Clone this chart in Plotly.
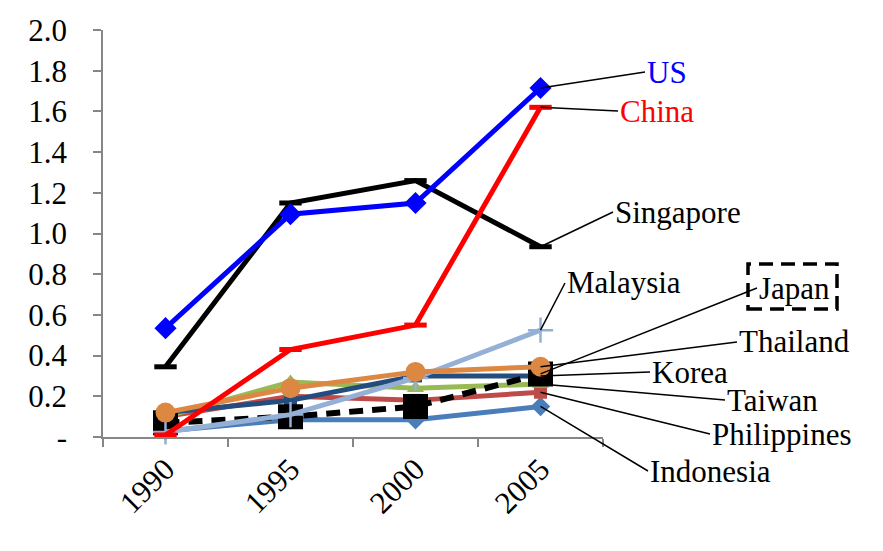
import plotly.graph_objects as go

years = ["1990", "1995", "2000", "2005"]

us = [0.535, 1.095, 1.15, 1.715]
china = [0.01, 0.43, 0.55, 1.62]
singapore = [0.345, 1.15, 1.26, 0.935]
malaysia = [0.025, 0.11, 0.29, 0.525]
japan = [0.07, 0.10, 0.15, 0.31]
thailand = [0.12, 0.24, 0.32, 0.345]
korea = [0.12, 0.18, 0.30, 0.30]
taiwan = [0.10, 0.27, 0.24, 0.26]
philippines = [0.10, 0.20, 0.18, 0.22]
indonesia = [0.03, 0.085, 0.085, 0.15]

ytick_vals = [0, 0.2, 0.4, 0.6, 0.8, 1.0, 1.2, 1.4, 1.6, 1.8, 2.0]
ytick_text = ["-", "0.2", "0.4", "0.6", "0.8", "1.0", "1.2", "1.4", "1.6", "1.8", "2.0"]

FONT = "Liberation Serif"
FS = 31
W, H = 883, 551
OFF = 8  # page body margin offset
ML, MT = 103 - OFF, 30 - OFF
PW, PH = 500, 407
MR = W - ML - PW
MB = H - MT - PH
YMAX = 2.0

def px_x(i):
    return 103 + (i + 0.5) * PW / 4

def px_y(v):
    return 30 + PH * (1 - v / YMAX)

def paper_x(px):
    return (px - 103) / PW

def paper_y(py):
    return (30 + PH - py) / PH

fig = go.Figure()

def add(name, vals, color, width, symbol, msize, mline=0, dash="solid"):
    fig.add_trace(go.Scatter(
        x=years, y=vals, name=name, mode="lines+markers",
        line=dict(color=color, width=width, dash=dash),
        marker=dict(symbol=symbol, size=msize, color=color,
                    line=dict(color=color, width=mline)),
        cliponaxis=False,
    ))

add("Indonesia", indonesia, "#4A7EBB", 5, "diamond", 15)
add("Philippines", philippines, "#BE4B48", 5, "square", 13)
add("Taiwan", taiwan, "#98B954", 5, "triangle-up", 15)
add("Korea", korea, "#254C7E", 5, "square", 13)
add("Japan", japan, "#000000", 6, "square", 23, mline=2, dash="14px,9px")
add("Malaysia", malaysia, "#95B0D6", 5, "cross-thin", 18, mline=2.5)
add("Thailand", thailand, "#DD8842", 5, "circle", 20)
add("Singapore", singapore, "#000000", 5, "line-ew", 16, mline=5)
add("China", china, "#FF0000", 5, "line-ew", 16, mline=5)
add("US", us, "#0000FF", 5, "diamond", 17)

# labels: (text, series values, label left px, label center y px, color)
labels = [
    ("US", us, 645, 72, "#0000FF"),
    ("China", china, 618, 111, "#FF0000"),
    ("Singapore", singapore, 613, 212, "#000000"),
    ("Malaysia", malaysia, 565, 283, "#000000"),
    ("Japan", japan, 757, 288, "#000000"),
    ("Thailand", thailand, 737, 342, "#000000"),
    ("Korea", korea, 650, 372, "#000000"),
    ("Taiwan", taiwan, 725, 400, "#000000"),
    ("Philippines", philippines, 710, 434, "#000000"),
    ("Indonesia", indonesia, 648, 471, "#000000"),
]
last = len(years) - 1
for text, vals, lx, ly, col in labels:
    v = vals[-1]
    fig.add_annotation(
        x=last, y=v, xref="x", yref="y", text=text, showarrow=True,
        arrowhead=0, arrowwidth=1.5, arrowcolor="#000000",
        axref="pixel", ayref="pixel",
        ax=lx - px_x(last), ay=ly - px_y(v),
        xanchor="left", yanchor="middle",
        font=dict(family=FONT, size=FS, color=col),
    )

# dashed box around the Japan label
fig.add_shape(type="rect", xref="paper", yref="paper",
              x0=paper_x(748), x1=paper_x(837), y0=paper_y(309), y1=paper_y(264),
              line=dict(color="#000000", width=3.5, dash="14px,8px"))

# left border of the chart area
fig.add_shape(type="line", xref="paper", yref="paper",
              x0=paper_x(3), x1=paper_x(3), y0=paper_y(H + 20), y1=paper_y(-20),
              line=dict(color="#8A8A8A", width=1.5))

fig.update_layout(
    width=W, height=H,
    margin=dict(l=ML, r=MR, t=MT, b=MB, autoexpand=False),
    paper_bgcolor="white", plot_bgcolor="white",
    showlegend=False,
    font=dict(family=FONT, size=FS, color="#000000"),
)
fig.update_xaxes(
    type="category", categoryorder="array", categoryarray=years,
    range=[-0.5, 3.5], tickson="boundaries",
    ticks="outside", ticklen=8, tickcolor="#868686", tickwidth=1.5,
    showline=True, linecolor="#868686", linewidth=1.5,
    showgrid=False, zeroline=False, tickangle=-45,
    tickfont=dict(family=FONT, size=FS),
)
fig.update_yaxes(
    range=[0, YMAX], tickvals=ytick_vals, ticktext=ytick_text,
    ticks="outside", ticklen=8, tickcolor="#868686", tickwidth=1.5,
    showline=True, linecolor="#868686", linewidth=1.5,
    showgrid=False, zeroline=False, ticklabelstandoff=20,
    tickfont=dict(family=FONT, size=FS),
)

fig.write_html("out.html")
